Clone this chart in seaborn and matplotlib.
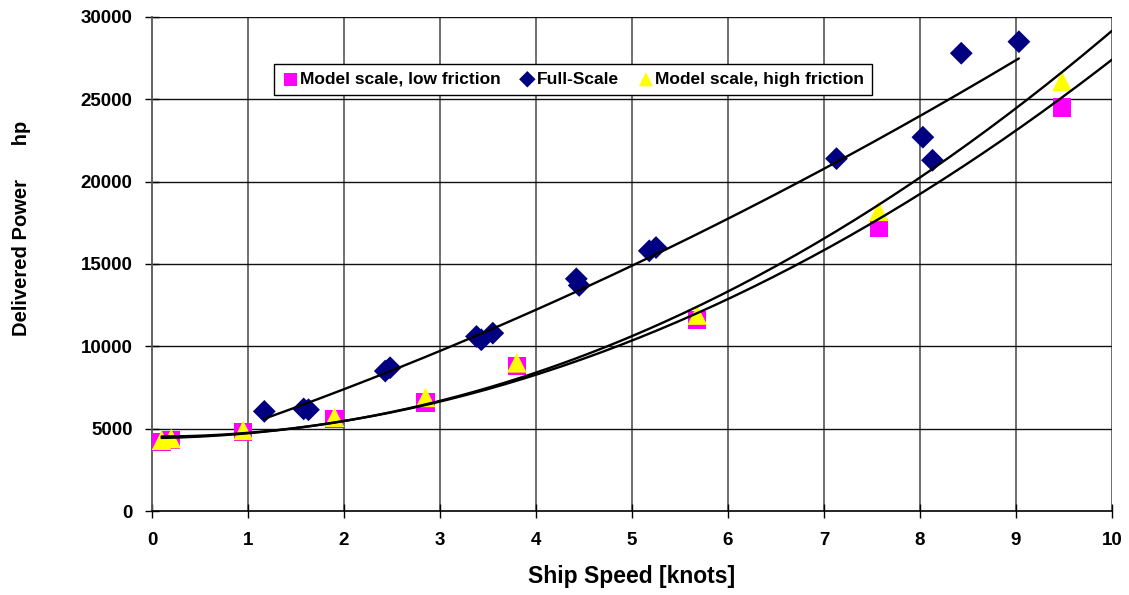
import numpy as np
import pandas as pd
import matplotlib
matplotlib.use("Agg")
import matplotlib.pyplot as plt
import seaborn as sns

# ---- data ----
full_speed = [1.17, 1.58, 1.63, 2.43, 2.48, 3.38, 3.43, 3.55, 4.42, 4.45, 5.18, 5.25, 7.13, 8.03, 8.13, 8.43, 9.03]
full_power = [6050, 6200, 6150, 8500, 8700, 10600, 10400, 10800, 14100, 13700, 15800, 16000, 21400, 22700, 21300, 27800, 28500]

low_speed = [0.10, 0.20, 0.95, 1.90, 2.85, 3.80, 5.68, 7.57, 9.48]
low_power = [4200, 4300, 4800, 5600, 6600, 8800, 11600, 17200, 24500]

high_speed = [0.10, 0.20, 0.95, 1.90, 2.85, 3.80, 5.68, 7.57, 9.48]
high_power = [4300, 4400, 4900, 5700, 6900, 9000, 11900, 18200, 26100]

# trendline readings (order-2 polynomial trendlines)
full_trend_x = [1.17, 3.83, 5.71, 7.375, 9.03]
full_trend_y = [5600, 11780, 16940, 21920, 27500]
high_trend_x = [0.10, 2.00, 3.83, 5.92, 7.00, 8.00, 10.00]
high_trend_y = [4500, 5480, 8080, 13240, 16580, 19980, 29270]
low_trend_x = [0.10, 2.00, 3.83, 5.92, 7.00, 8.00, 10.00]
low_trend_y = [4450, 5450, 7950, 12630, 15850, 19310, 27380]

x_ticks = [0, 1, 2, 3, 4, 5, 6, 7, 8, 9, 10]
y_ticks = [0, 5000, 10000, 15000, 20000, 25000, 30000]

sns.set_theme(style="white")
plt.rcParams['font.family'] = ['Liberation Sans', 'DejaVu Sans']
plt.rcParams['text.color'] = 'black'
plt.rcParams['axes.labelcolor'] = 'black'
plt.rcParams['xtick.color'] = 'black'
plt.rcParams['ytick.color'] = 'black'

fig = plt.figure(figsize=(11.29, 5.95), dpi=100)
ax = fig.add_axes([152/1129, 1-511/595, 960/1129, 494/595])

# grid
for xv in x_ticks[1:]:
    ax.axvline(xv, color="#6e6e6e", lw=1.4, zorder=0)
for yv in y_ticks[1:]:
    ax.axhline(yv, color="#111111", lw=1.0, zorder=0)

df_low = pd.DataFrame({"speed": low_speed, "power": low_power})
df_full = pd.DataFrame({"speed": full_speed, "power": full_power})
df_high = pd.DataFrame({"speed": high_speed, "power": high_power})

sns.scatterplot(data=df_low, x="speed", y="power", marker="s", s=175, color="#FF00FF",
                edgecolor="none", ax=ax, zorder=3, label="Model scale, low friction")
sns.scatterplot(data=df_full, x="speed", y="power", marker="D", s=135, color="#000080",
                edgecolor="none", ax=ax, zorder=3, label="Full-Scale")
sns.scatterplot(data=df_high, x="speed", y="power", marker="^", s=200, color="#FFFF00",
                edgecolor="none", ax=ax, zorder=4, label="Model scale, high friction")

def trend(xs, ys):
    c = np.polyfit(xs, ys, 2)
    xx = np.linspace(min(xs), max(xs), 200)
    return pd.DataFrame({"speed": xx, "power": np.polyval(c, xx)})

for d in [trend(full_trend_x, full_trend_y),
          trend(low_trend_x, low_trend_y),
          trend(high_trend_x, high_trend_y)]:
    sns.lineplot(data=d, x="speed", y="power", color="black", lw=1.7, ax=ax,
                 estimator=None, sort=False, zorder=5, legend=False)

ax.set_xlim(0, 10)
ax.set_ylim(0, 30000)
ax.set_xticks(x_ticks)
ax.set_yticks(y_ticks)
ax.tick_params(axis="both", which="both", direction="inout", length=10, width=1,
               color="black", labelsize=13.5, bottom=True, left=True)
ax.tick_params(axis="x", pad=10)
ax.tick_params(axis="y", pad=9)
for lab in ax.get_xticklabels() + ax.get_yticklabels():
    lab.set_fontweight("bold")

for side in ["top", "right"]:
    ax.spines[side].set_visible(False)
ax.spines["left"].set_color("#555555")
ax.spines["left"].set_linewidth(1.3)
ax.spines["bottom"].set_color("black")
ax.spines["bottom"].set_linewidth(1.2)

ax.set_xlabel("Ship Speed [knots]", fontsize=16.5, fontweight="bold", labelpad=12)
ax.set_ylabel("Delivered Power      hp", fontsize=14.5, fontweight="bold")
ax.yaxis.set_label_coords(-0.126, 0.573)

leg = ax.legend(loc="center", bbox_to_anchor=(0.4385, 0.874), ncol=3, frameon=True,
                fancybox=False, edgecolor="black", framealpha=1,
                prop={"weight": "bold", "size": 12.5}, handletextpad=0.05,
                columnspacing=1.05, handlelength=1.0, borderpad=0.45,
                markerscale=0.72, borderaxespad=0)
leg.get_frame().set_linewidth(1.0)
leg.set_zorder(10)

fig.savefig("out.png", dpi=100)
